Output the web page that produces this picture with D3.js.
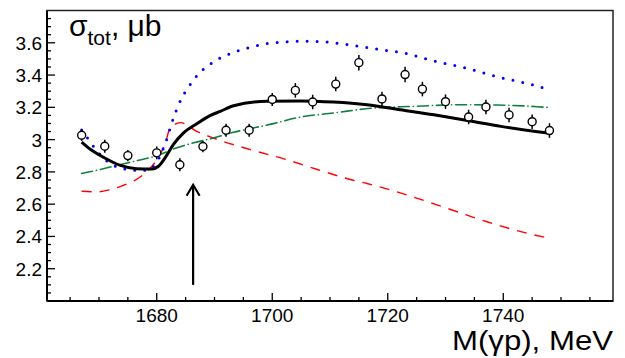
<!DOCTYPE html>
<html><head><meta charset="utf-8">
<script src="https://cdn.jsdelivr.net/npm/d3@7"></script>
<style>body{margin:0;background:#fff}svg{display:block}text{font-family:"Liberation Sans",Arial,sans-serif}</style>
</head><body>
<svg id="c" width="625" height="358"></svg>
<script>
// data points
const dataM   = [1667,1671,1675,1680,1684,1688,1692,1696,1700,1704,1707,1711,1715,1719,1723,1726,1730,1734,1737,1741,1745,1748];
const dataSig = [3.027,2.959,2.901,2.918,2.844,2.957,3.058,3.058,3.249,3.305,3.233,3.344,3.477,3.252,3.403,3.313,3.235,3.140,3.202,3.153,3.111,3.056];
const dataErr = [0.035,0.040,0.035,0.040,0.040,0.035,0.040,0.040,0.040,0.045,0.045,0.045,0.048,0.045,0.048,0.045,0.045,0.045,0.045,0.045,0.045,0.045];

// black solid curve
const blackM = [1667,1668.5,1670.8,1673.7,1676.5,1679.2,1680.3,1681.5,1682.9,1684.6,1687,1689.3,1691,1693.3,1699.1,1704.9,1710.6,1716.4,1722.2,1728,1733.8,1739.6,1748.1];
const blackS = [2.985,2.94,2.89,2.84,2.82,2.818,2.835,2.89,2.97,3.04,3.10,3.15,3.175,3.21,3.238,3.24,3.233,3.216,3.185,3.154,3.119,3.082,3.039];

// blue dotted curve
const blueM = [1667,1668.2,1669.2,1670.4,1671.6,1673.2,1674.9,1676.7,1678.5,1679.9,1680.7,1681.3,1681.9,1682.4,1683.0,1683.6,1684.4,1685.3,1687.4,1688.9,1690.3,1691.9,1693.5,1695.2,1696.9,1698.6,1700.4,1702.1,1703.9,1705.6,1707.3,1709.2,1712.7,1716.2,1719.7,1723.2,1726.6,1730,1733.5,1737,1740.3,1743.8,1747.4];
const blueS = [3.06,3.0,2.95,2.90,2.86,2.83,2.815,2.809,2.812,2.856,2.907,2.96,3.02,3.08,3.144,3.20,3.262,3.314,3.413,3.458,3.493,3.52,3.543,3.562,3.578,3.593,3.600,3.606,3.609,3.610,3.608,3.605,3.59,3.572,3.553,3.533,3.50,3.471,3.444,3.409,3.378,3.351,3.316];

// red dashed curve
const redM = [1667,1669.6,1671.9,1674.2,1677.7,1680.1,1681.5,1682.3,1684.1,1687,1689.8,1696.2,1702,1707.8,1713.5,1716.4,1723.4,1730.3,1737.2,1744.2,1748.1];
const redS = [2.68,2.676,2.69,2.716,2.784,2.881,2.98,3.07,3.105,3.05,3.01,2.938,2.881,2.815,2.753,2.728,2.656,2.574,2.491,2.419,2.388];

// green dash-dot curve
const greenM = [1667,1669.6,1673.1,1676.6,1680,1683.5,1686.4,1689.8,1693.3,1700.2,1704.9,1710.6,1717.6,1724.8,1732,1739,1745.9,1748.1];
const greenS = [2.79,2.81,2.84,2.87,2.90,2.95,2.98,3.01,3.045,3.099,3.14,3.165,3.196,3.206,3.216,3.214,3.204,3.198];

const xTicks = [1680,1700,1720,1740];
const yTicks = [2.2,2.4,2.6,2.8,3.0,3.2,3.4,3.6];
const arrowM = 1686.3, arrowFrom = 2.1, arrowTo = 2.72;

const svg = d3.select("#c");
const L=47, R=613, T=10.5, B=301;
const x = d3.scaleLinear().domain([1661,1759]).range([L,R]);
const y = d3.scaleLinear().domain([2.0,3.8]).range([B,T]);

// ticks (inward)
const g = svg.append("g");
d3.range(1665,1759,5).forEach(v=>{
  const major = v%20===0;
  g.append("line").attr("x1",x(v)).attr("x2",x(v)).attr("y1",B).attr("y2",B-(major?8:4)).attr("stroke","#000").attr("stroke-width",1.3);
});
d3.range(2.05,3.8,0.05).forEach(v=>{
  const major = Math.abs(Math.round(v*5)-v*5)<1e-6;
  g.append("line").attr("x1",L).attr("x2",L+(major?8:4)).attr("y1",y(v)).attr("y2",y(v)).attr("stroke","#000").attr("stroke-width",1.3);
});
xTicks.forEach(v=>g.append("text").attr("x",x(v)).attr("y",322).attr("text-anchor","middle").attr("font-size",19).text(v));
yTicks.forEach(v=>g.append("text").attr("x",42).attr("y",y(v)+7).attr("text-anchor","end").attr("font-size",19).text(d3.format("~g")(v)));

// frame
svg.append("rect").attr("x",L).attr("y",T).attr("width",R-L).attr("height",B-T).attr("fill","none").attr("stroke","#222").attr("stroke-width",1.5);
svg.append("line").attr("x1",L).attr("x2",R).attr("y1",B).attr("y2",B).attr("stroke","#000").attr("stroke-width",2);
svg.append("line").attr("x1",L).attr("x2",L).attr("y1",T).attr("y2",B).attr("stroke","#000").attr("stroke-width",2);

const line = d3.line().curve(d3.curveMonotoneX);
function curve(ms, ss, color, width, dash, cap){
  svg.append("path").attr("d", line(ms.map((m,i)=>[x(m),y(ss[i])])))
    .attr("fill","none").attr("stroke",color).attr("stroke-width",width)
    .attr("stroke-dasharray",dash).attr("stroke-linecap",cap||"butt");
}
curve(redM, redS, "#ff0000", 1.4, "10,8");
curve(greenM, greenS, "#11803f", 1.6, "11,4,0.1,4", "round");
curve(blueM, blueS, "#0000ff", 3, "0,10", "round");
curve(blackM, blackS, "#000", 3);

// data
const pts = svg.append("g");
dataM.forEach((m,i)=>{
  pts.append("line").attr("x1",x(m)).attr("x2",x(m)).attr("y1",y(dataSig[i]-dataErr[i])).attr("y2",y(dataSig[i]+dataErr[i])).attr("stroke","#000").attr("stroke-width",1.5);
  pts.append("circle").attr("cx",x(m)).attr("cy",y(dataSig[i])).attr("r",4).attr("fill","#fff").attr("stroke","#000").attr("stroke-width",1.4);
});

// arrow
const ax=x(arrowM), ay1=y(arrowFrom), ay2=y(arrowTo);
svg.append("line").attr("x1",ax).attr("x2",ax).attr("y1",ay1).attr("y2",ay2+1).attr("stroke","#000").attr("stroke-width",2.2);
svg.append("path").attr("d",`M${ax-6.5},${ay2+11}L${ax},${ay2}L${ax+6.5},${ay2+11}`).attr("fill","none").attr("stroke","#000").attr("stroke-width",2.2);

// titles
const yt = svg.append("text").attr("x",69).attr("y",36).attr("font-size",30);
yt.append("tspan").text("σ");
yt.append("tspan").attr("font-size",21).attr("dy",9).text("tot");
yt.append("tspan").attr("dy",-9).text(", μb");
svg.append("text").attr("x",452).attr("y",349.5).attr("font-size",28)
  .attr("textLength",161).attr("lengthAdjust","spacingAndGlyphs").text("M(γp), MeV");
</script>
</body></html>
